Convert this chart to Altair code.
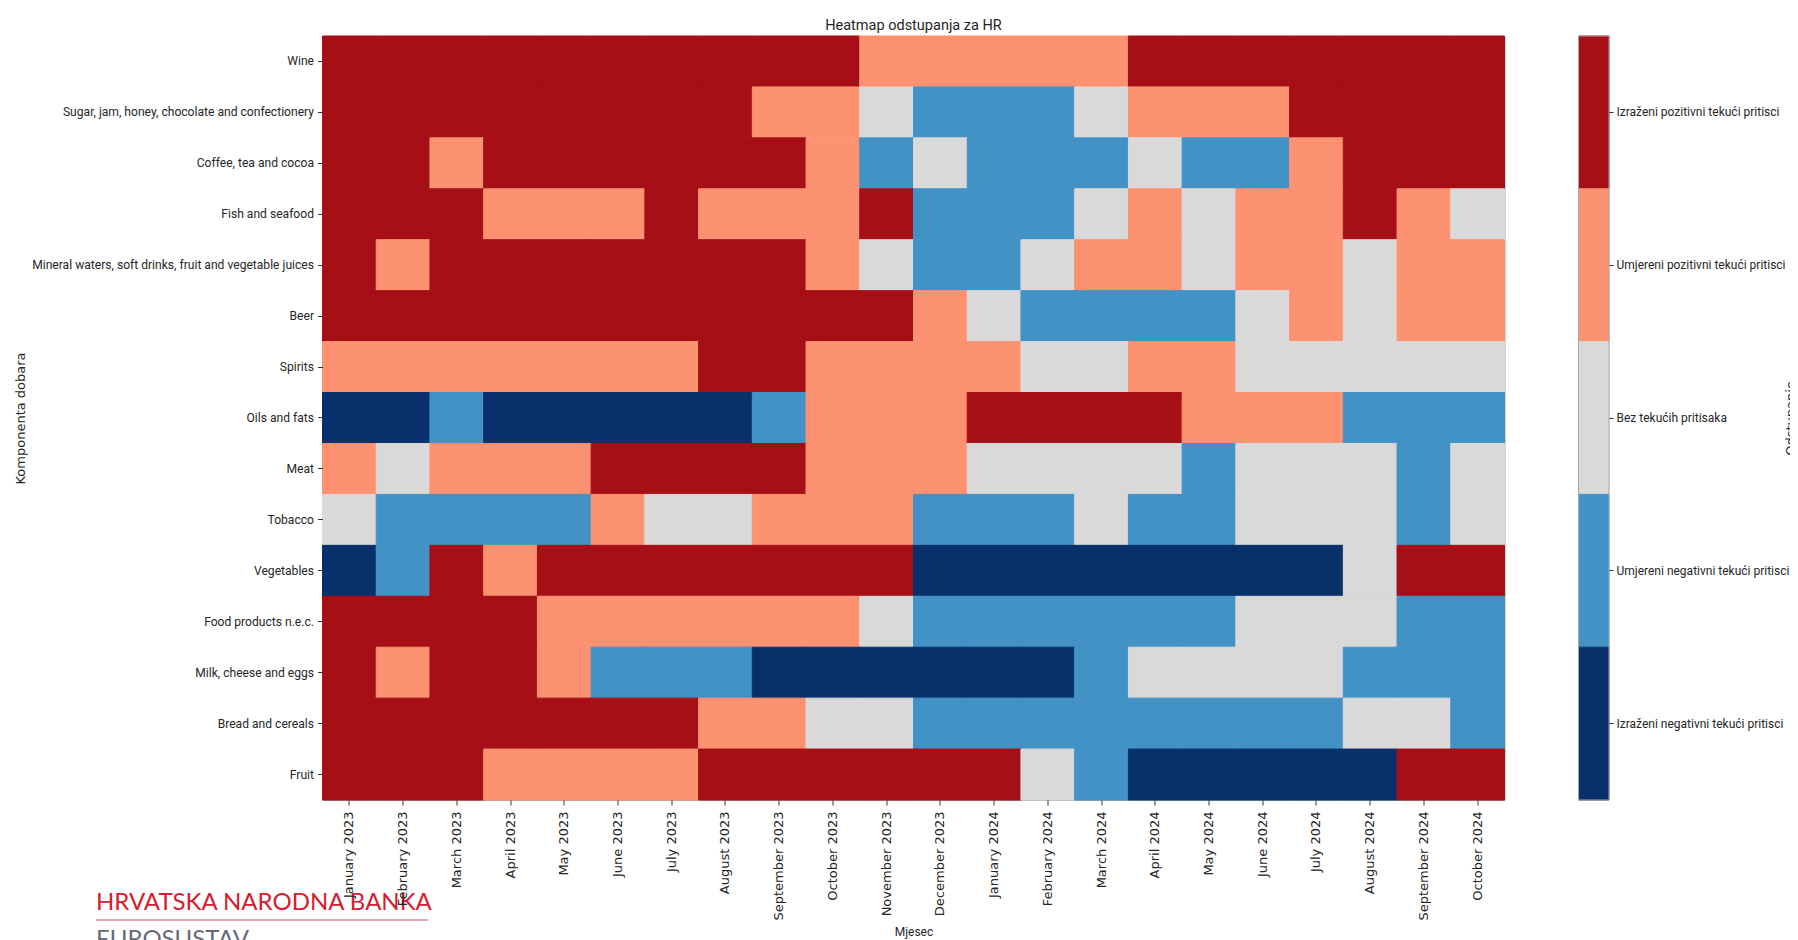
import altair as alt
import pandas as pd

months = ["January 2023", "February 2023", "March 2023", "April 2023", "May 2023",
          "June 2023", "July 2023", "August 2023", "September 2023", "October 2023",
          "November 2023", "December 2023", "January 2024", "February 2024", "March 2024",
          "April 2024", "May 2024", "June 2024", "July 2024", "August 2024",
          "September 2024", "October 2024"]

components = ["Wine", "Sugar, jam, honey, chocolate and confectionery", "Coffee, tea and cocoa",
              "Fish and seafood", "Mineral waters, soft drinks, fruit and vegetable juices",
              "Beer", "Spirits", "Oils and fats", "Meat", "Tobacco", "Vegetables",
              "Food products n.e.c.", "Milk, cheese and eggs", "Bread and cereals", "Fruit"]

level_codes = [2, 1, 0, -1, -2]
level_labels = ["Izraženi pozitivni tekući pritisci", "Umjereni pozitivni tekući pritisci",
                "Bez tekućih pritisaka", "Umjereni negativni tekući pritisci",
                "Izraženi negativni tekući pritisci"]
level_colors = ["#a50f15", "#fc9272", "#d9d9d9", "#4292c6", "#08306b"]

# level code per month (January 2023 .. October 2024)
wine = [2, 2, 2, 2, 2, 2, 2, 2, 2, 2, 1, 1, 1, 1, 1, 2, 2, 2, 2, 2, 2, 2]
sugar = [2, 2, 2, 2, 2, 2, 2, 2, 1, 1, 0, -1, -1, -1, 0, 1, 1, 1, 2, 2, 2, 2]
coffee = [2, 2, 1, 2, 2, 2, 2, 2, 2, 1, -1, 0, -1, -1, -1, 0, -1, -1, 1, 2, 2, 2]
fish = [2, 2, 2, 1, 1, 1, 2, 1, 1, 1, 2, -1, -1, -1, 0, 1, 0, 1, 1, 2, 1, 0]
mineral = [2, 1, 2, 2, 2, 2, 2, 2, 2, 1, 0, -1, -1, 0, 1, 1, 0, 1, 1, 0, 1, 1]
beer = [2, 2, 2, 2, 2, 2, 2, 2, 2, 2, 2, 1, 0, -1, -1, -1, -1, 0, 1, 0, 1, 1]
spirits = [1, 1, 1, 1, 1, 1, 1, 2, 2, 1, 1, 1, 1, 0, 0, 1, 1, 0, 0, 0, 0, 0]
oils = [-2, -2, -1, -2, -2, -2, -2, -2, -1, 1, 1, 1, 2, 2, 2, 2, 1, 1, 1, -1, -1, -1]
meat = [1, 0, 1, 1, 1, 2, 2, 2, 2, 1, 1, 1, 0, 0, 0, 0, -1, 0, 0, 0, -1, 0]
tobacco = [0, -1, -1, -1, -1, 1, 0, 0, 1, 1, 1, -1, -1, -1, 0, -1, -1, 0, 0, 0, -1, 0]
vegetables = [-2, -1, 2, 1, 2, 2, 2, 2, 2, 2, 2, -2, -2, -2, -2, -2, -2, -2, -2, 0, 2, 2]
food_nec = [2, 2, 2, 2, 1, 1, 1, 1, 1, 1, 0, -1, -1, -1, -1, -1, -1, 0, 0, 0, -1, -1]
milk = [2, 1, 2, 2, 1, -1, -1, -1, -2, -2, -2, -2, -2, -2, -1, 0, 0, 0, 0, -1, -1, -1]
bread = [2, 2, 2, 2, 2, 2, 2, 1, 1, 0, 0, -1, -1, -1, -1, -1, -1, -1, -1, 0, 0, -1]
fruit = [2, 2, 2, 1, 1, 1, 1, 2, 2, 2, 2, 2, 2, 0, -1, -2, -2, -2, -2, -2, 2, 2]

rows = [wine, sugar, coffee, fish, mineral, beer, spirits, oils, meat, tobacco,
        vegetables, food_nec, milk, bread, fruit]

code_to_label = dict(zip(level_codes, level_labels))
records = []
for comp, vals in zip(components, rows):
    for m, v in zip(months, vals):
        records.append({"Komponenta": comp, "Mjesec": m, "Odstupanje": code_to_label[v]})
df = pd.DataFrame(records)
cb_df = pd.DataFrame({"Odstupanje": level_labels})

NARROW = "Roboto"
DEJAVU = "DejaVu Sans"
W, H = 1182, 764

color_scale = alt.Scale(domain=level_labels, range=level_colors)

heat = alt.Chart(df).mark_rect(strokeWidth=1).encode(
    x=alt.X("Mjesec:O", sort=months,
            scale=alt.Scale(paddingInner=0, paddingOuter=0),
            axis=alt.Axis(title="Mjesec", labelAngle=-90, labelFont=DEJAVU, labelFontSize=13,
                          labelColor="#262626", labelPadding=6, tickSize=5, tickColor="#333333",
                          domain=False, titleFont=NARROW, titleFontSize=12,
                          titleFontWeight="normal", titleColor="#262626",
                          titleY=131, titleBaseline="middle")),
    y=alt.Y("Komponenta:O", sort=components,
            scale=alt.Scale(paddingInner=0, paddingOuter=0),
            axis=alt.Axis(title="Komponenta dobara", labelFont=NARROW, labelFontSize=12.1,
                          labelColor="#262626", labelPadding=4, tickSize=5, tickColor="#333333",
                          labelLimit=500, domain=False, titleFont=DEJAVU, titleFontSize=13,
                          titleFontWeight="normal", titleColor="#262626",
                          titleX=-298.5, titleBaseline="alphabetic")),
    color=alt.Color("Odstupanje:N", scale=color_scale, legend=None),
    stroke=alt.Stroke("Odstupanje:N", scale=color_scale, legend=None),
)

cbar = alt.Chart(cb_df).mark_rect(strokeWidth=1).encode(
    x=alt.value(1256),
    x2=alt.value(1286.5),
    y=alt.Y("Odstupanje:N", sort=level_labels,
            scale=alt.Scale(domain=level_labels, paddingInner=0, paddingOuter=0),
            axis=alt.Axis(orient="right", offset=104.5, title="Odstupanje",
                          labelFont=NARROW, labelFontSize=12.0, labelColor="#262626",
                          labelPadding=3, tickSize=4, tickColor="#333333", labelLimit=400,
                          domain=False, titleFont=DEJAVU, titleFontSize=13,
                          titleFontWeight="normal", titleColor="#262626",
                          titleX=185.5, titleAngle=270, titleBaseline="alphabetic")),
    color=alt.Color("Odstupanje:N", scale=color_scale, legend=None),
    stroke=alt.Stroke("Odstupanje:N", scale=color_scale, legend=None),
)

one = pd.DataFrame({"bank": ["HRVATSKA NARODNA BANKA"], "sub": ["EUROSUSTAV"]})

outline = alt.Chart(one).mark_rect(fillOpacity=0, stroke="#a8a8a8", strokeWidth=1).encode(
    x=alt.value(1256), x2=alt.value(1286.5), y=alt.value(0), y2=alt.value(H)
)

logo_bank = alt.Chart(one).mark_text(
    font="Lato", fontSize=24, color="#d2202f", align="left", baseline="alphabetic"
).encode(x=alt.value(-226.5), y=alt.value(874), text="bank:N")

logo_line = alt.Chart(one).mark_rule(color="#e6a6ac", strokeWidth=2).encode(
    x=alt.value(-226.5), x2=alt.value(105.5), y=alt.value(884)
)

logo_sub = alt.Chart(one).mark_text(
    font="Lato", fontSize=24, color="#646a7a", align="left", baseline="alphabetic"
).encode(x=alt.value(-226.5), y=alt.value(911), text="sub:N")

chart = alt.layer(heat, cbar, outline, logo_bank, logo_line, logo_sub).resolve_scale(
    y="independent"
).properties(
    width=W, height=H,
    title=alt.TitleParams("Heatmap odstupanja za HR", font=NARROW, fontSize=14.5,
                          fontWeight="normal", color="#262626", anchor="middle",
                          frame="group", offset=3, dy=12, baseline="alphabetic"),
    autosize=alt.AutoSizeParams(type="none"),
    padding={"left": 314.5, "top": 28, "right": 285.5, "bottom": 140},
).configure_view(stroke="#a8a8a8", strokeWidth=1)

chart.save("out.html", embed_options={"renderer": "svg", "actions": False})
